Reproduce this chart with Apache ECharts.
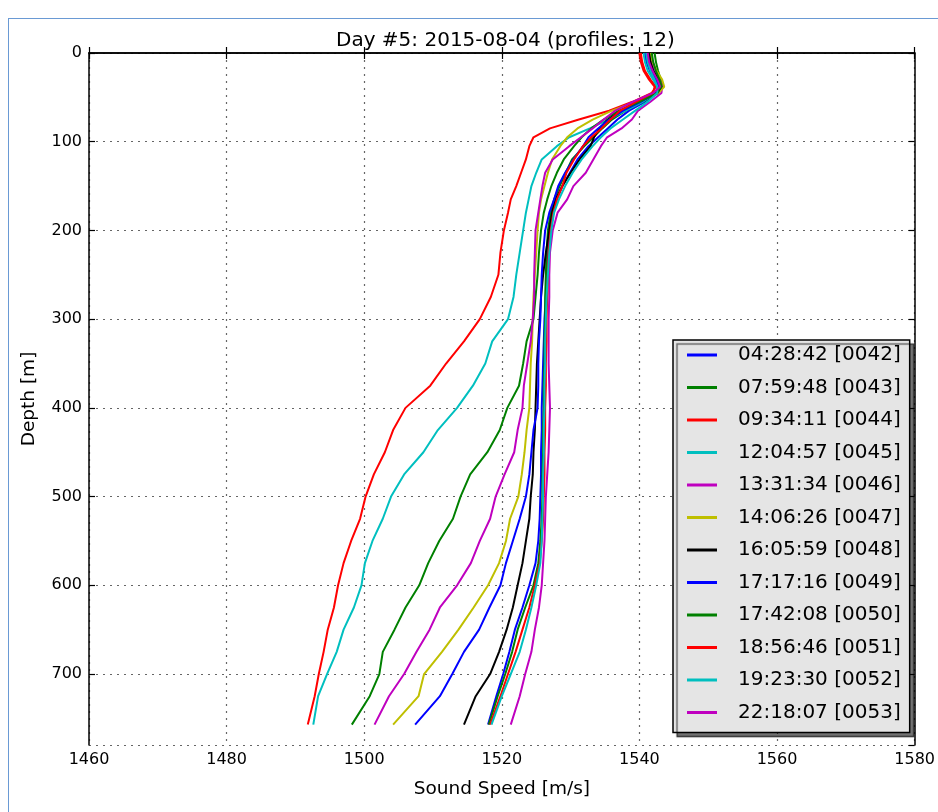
<!DOCTYPE html>
<html>
<head>
<meta charset="utf-8">
<script src="https://cdn.jsdelivr.net/npm/echarts@6/dist/echarts.min.js"></script>
<style>
  html, body { margin: 0; padding: 0; background: #fff; overflow: hidden; width: 938px; height: 812px; }
  #frame { position: absolute; left: 8px; top: 18px; width: 940px; height: 800px; border-left: 1px solid #6a9ad4; border-top: 1px solid #6a9ad4; }
  #chart { position: absolute; left: 0; top: 0; width: 938px; height: 812px; }
</style>
</head>
<body>
<div id="frame"></div>
<div id="chart"></div>
<script>
// depth levels (m) shared by all profiles
const depths = [0, 10, 20, 30, 38, 45, 55, 65, 75, 85, 95, 105, 120, 135, 150, 165, 180, 200, 225, 250,
  275, 300, 325, 350, 375, 400, 425, 450, 475, 500, 525, 550, 575, 600, 625, 650, 675, 700, 725, 757];

const profileNames = ['04:28:42 [0042]', '07:59:48 [0043]', '09:34:11 [0044]', '12:04:57 [0045]',
  '13:31:34 [0046]', '14:06:26 [0047]', '16:05:59 [0048]', '17:17:16 [0049]',
  '17:42:08 [0050]', '18:56:46 [0051]', '19:23:30 [0052]', '22:18:07 [0053]'];

const colors = ['#0000ff', '#008000', '#ff0000', '#00bfbf', '#bf00bf', '#bfbf00', '#000000',
  '#0000ff', '#008000', '#ff0000', '#00bfbf', '#bf00bf'];

// sound speed (m/s) at each depth level
const p0042 = [1540.8, 1541.0, 1541.5, 1542.2, 1542.8, 1542.5, 1540.8, 1538.5, 1536.8, 1535.4, 1534.0, 1532.6, 1531.0, 1529.9, 1528.8, 1528.0, 1527.5, 1527.0, 1526.7, 1526.5,
  1526.4, 1526.2, 1526.1, 1526.0, 1525.9, 1525.8, 1525.8, 1525.7, 1525.7, 1525.6, 1525.5, 1525.3, 1524.9, 1524.0, 1523.0, 1521.9, 1521.1, 1520.2, 1519.2, 1518.0];
const p0043 = [1542.2, 1542.4, 1542.7, 1543.1, 1543.4, 1542.8, 1540.5, 1538.0, 1536.0, 1534.6, 1533.3, 1532.0, 1530.2, 1529.3, 1528.4, 1527.6, 1527.1, 1526.7, 1526.5, 1526.4,
  1526.3, 1526.3, 1526.2, 1526.2, 1526.1, 1526.1, 1526.0, 1526.0, 1525.9, 1525.9, 1525.8, 1525.6, 1525.3, 1524.6, 1523.4, 1522.3, 1521.5, 1520.5, 1519.4, 1518.1];
const p0044 = [1540.2, 1540.4, 1540.8, 1541.6, 1542.4, 1541.8, 1539.0, 1535.6, 1531.2, 1527.0, 1524.6, 1524.0, 1523.5, 1522.8, 1522.1, 1521.3, 1520.9, 1520.3, 1519.8, 1519.5,
  1518.4, 1516.8, 1514.5, 1511.9, 1509.6, 1506.0, 1504.2, 1503.0, 1501.4, 1500.2, 1499.4, 1498.1, 1497.0, 1496.2, 1495.6, 1494.7, 1494.1, 1493.4, 1492.8, 1491.8];
const p0045 = [1540.6, 1540.8, 1541.2, 1542.0, 1542.6, 1542.4, 1540.5, 1538.0, 1535.5, 1532.8, 1529.8, 1528.0, 1525.8, 1525.0, 1524.3, 1523.9, 1523.5, 1523.1, 1522.6, 1522.1,
  1521.7, 1520.9, 1518.6, 1517.6, 1515.8, 1513.5, 1510.7, 1508.6, 1505.8, 1503.9, 1502.7, 1501.2, 1500.1, 1499.6, 1498.5, 1497.0, 1496.0, 1494.6, 1493.3, 1492.6];
const p0046 = [1541.4, 1541.7, 1542.2, 1542.9, 1543.3, 1543.2, 1541.6, 1539.8, 1538.9, 1537.4, 1535.3, 1534.4, 1533.3, 1532.2, 1530.4, 1529.5, 1528.1, 1527.4, 1527.0, 1526.9,
  1526.9, 1526.8, 1526.8, 1526.8, 1526.9, 1527.0, 1526.9, 1526.8, 1526.6, 1526.4, 1526.3, 1526.2, 1526.0, 1525.8, 1525.4, 1524.8, 1524.3, 1523.4, 1522.6, 1521.3];
const p0047 = [1541.6, 1541.9, 1542.5, 1543.3, 1543.6, 1542.8, 1539.5, 1536.0, 1533.2, 1531.0, 1529.5, 1528.5, 1527.3, 1526.7, 1526.2, 1525.7, 1525.4, 1525.2, 1525.0, 1524.8,
  1524.6, 1524.5, 1524.4, 1524.2, 1524.1, 1524.0, 1523.6, 1523.3, 1522.9, 1522.4, 1521.2, 1520.6, 1519.6, 1518.0, 1515.9, 1513.7, 1511.3, 1508.7, 1507.9, 1504.2];
const p0048 = [1541.4, 1541.6, 1542.0, 1542.8, 1543.2, 1542.6, 1540.0, 1537.2, 1535.4, 1534.2, 1533.4, 1532.9, 1531.3, 1530.0, 1528.8, 1527.8, 1527.3, 1526.9, 1526.4, 1526.0,
  1525.7, 1525.5, 1525.3, 1525.1, 1525.0, 1524.9, 1524.8, 1524.6, 1524.5, 1524.2, 1524.0, 1523.5, 1523.0, 1522.3, 1521.6, 1520.7, 1519.6, 1518.3, 1516.2, 1514.5];
const p0049 = [1541.0, 1541.2, 1541.7, 1542.4, 1542.9, 1542.4, 1540.2, 1537.6, 1535.6, 1534.0, 1532.6, 1531.8, 1530.4, 1529.2, 1528.2, 1527.6, 1526.9, 1526.3, 1526.0, 1525.8,
  1525.7, 1525.6, 1525.4, 1525.3, 1525.3, 1525.2, 1524.6, 1524.3, 1524.0, 1523.5, 1522.6, 1521.6, 1520.6, 1519.8, 1518.2, 1516.7, 1514.5, 1512.8, 1511.0, 1507.4];
const p0050 = [1541.8, 1542.0, 1542.4, 1542.9, 1543.2, 1542.5, 1540.0, 1537.0, 1534.8, 1533.0, 1531.6, 1530.5, 1529.0, 1528.0, 1527.2, 1526.6, 1526.1, 1525.7, 1525.4, 1525.2,
  1524.9, 1524.6, 1523.6, 1523.1, 1522.5, 1520.8, 1519.7, 1517.9, 1515.4, 1514.0, 1512.9, 1510.9, 1509.3, 1508.0, 1506.0, 1504.4, 1502.7, 1502.2, 1500.8, 1498.2];
const p0051 = [1540.0, 1540.2, 1540.6, 1541.4, 1542.2, 1542.0, 1539.5, 1537.2, 1535.8, 1534.5, 1533.0, 1531.8, 1530.5, 1529.4, 1528.8, 1528.0, 1527.5, 1527.1, 1526.8, 1526.7,
  1526.6, 1526.5, 1526.5, 1526.4, 1526.4, 1526.3, 1526.3, 1526.2, 1526.2, 1526.1, 1526.0, 1525.8, 1525.5, 1524.8, 1524.0, 1523.0, 1522.0, 1520.9, 1519.8, 1518.3];
const p0052 = [1541.0, 1541.2, 1541.6, 1542.2, 1542.6, 1542.6, 1541.2, 1539.4, 1537.6, 1535.8, 1534.4, 1533.2, 1531.6, 1530.3, 1529.2, 1528.3, 1527.6, 1527.2, 1526.9, 1526.7,
  1526.5, 1526.4, 1526.3, 1526.3, 1526.2, 1526.2, 1526.1, 1526.1, 1526.0, 1526.0, 1525.9, 1525.8, 1525.6, 1525.0, 1524.3, 1523.5, 1522.6, 1521.3, 1520.0, 1518.5];
const p0053 = [1541.2, 1541.4, 1541.9, 1542.6, 1543.0, 1542.0, 1539.0, 1536.5, 1534.8, 1533.2, 1531.5, 1529.8, 1527.4, 1526.3, 1525.9, 1525.6, 1525.3, 1524.9, 1524.8, 1524.7,
  1524.7, 1524.5, 1524.2, 1523.7, 1523.2, 1523.0, 1522.3, 1521.8, 1520.4, 1519.1, 1518.3, 1516.8, 1515.5, 1513.5, 1511.0, 1509.5, 1507.6, 1505.8, 1503.6, 1501.5];

const profiles = [p0042, p0043, p0044, p0045, p0046, p0047, p0048, p0049, p0050, p0051, p0052, p0053];

const xTicks = { min: 1460, max: 1580, interval: 20 };
const yTicks = { min: 0, max: 780, interval: 100 };

const font = 'DejaVu Sans';
const chart = echarts.init(document.getElementById('chart'));

const gridDots = { show: true, lineStyle: { color: '#666', width: 1.2, type: [2, 5] } };
const frameLine = { show: true, lineStyle: { color: '#000', width: 1.5 } };
const tickIn = { show: true, inside: true, length: 6, lineStyle: { color: '#000', width: 1.2 } };
const plain = v => String(v);

chart.setOption({
  animation: false,
  title: {
    text: 'Day #5: 2015-08-04 (profiles: 12)',
    left: 331,
    top: 26,
    textStyle: { fontFamily: font, fontSize: 20, fontWeight: 'normal', color: '#000' }
  },
  grid: { left: 89, right: 19, top: 53, bottom: 67, show: false },
  legend: {
    orient: 'vertical',
    left: 673,
    top: 340,
    padding: [5, 9, 10, 14],
    itemWidth: 30,
    itemHeight: 3,
    itemGap: 12.5,
    icon: 'rect',
    backgroundColor: '#e5e5e5',
    borderColor: '#000',
    borderWidth: 1.5,
    shadowColor: 'rgba(0,0,0,0.55)',
    shadowBlur: 1,
    shadowOffsetX: 4,
    shadowOffsetY: 4,
    textStyle: { fontFamily: font, fontSize: 20, lineHeight: 20, color: '#000', padding: [0, 0, 0, 16] },
    data: profileNames
  },
  xAxis: [
    {
      type: 'value', ...xTicks,
      name: 'Sound Speed [m/s]', nameLocation: 'middle', nameGap: 35,
      nameTextStyle: { fontFamily: font, fontSize: 18.5, color: '#000' },
      axisLine: frameLine, axisTick: tickIn, splitLine: gridDots,
      axisLabel: { fontFamily: font, fontSize: 16, color: '#000', margin: 7, formatter: plain }
    },
    {
      type: 'value', ...xTicks, position: 'top',
      axisLine: frameLine, axisTick: tickIn, splitLine: { show: false },
      axisLabel: { show: false }
    }
  ],
  yAxis: [
    {
      type: 'value', ...yTicks, inverse: true,
      name: 'Depth [m]', nameLocation: 'middle', nameGap: 50,
      nameTextStyle: { fontFamily: font, fontSize: 18.5, color: '#000' },
      axisLine: frameLine, axisTick: tickIn, splitLine: gridDots,
      axisLabel: { fontFamily: font, fontSize: 16, color: '#000', margin: 7, showMaxLabel: false, formatter: plain }
    },
    {
      type: 'value', ...yTicks, inverse: true, position: 'right',
      axisLine: frameLine, axisTick: tickIn, splitLine: { show: false },
      axisLabel: { show: false }
    }
  ],
  series: profiles.map((speeds, i) => ({
    name: profileNames[i],
    type: 'line',
    xAxisIndex: 0,
    yAxisIndex: 0,
    showSymbol: false,
    color: colors[i],
    lineStyle: { width: 2, color: colors[i] },
    data: depths.map((d, j) => [speeds[j], d])
  }))
});
</script>
</body>
</html>
